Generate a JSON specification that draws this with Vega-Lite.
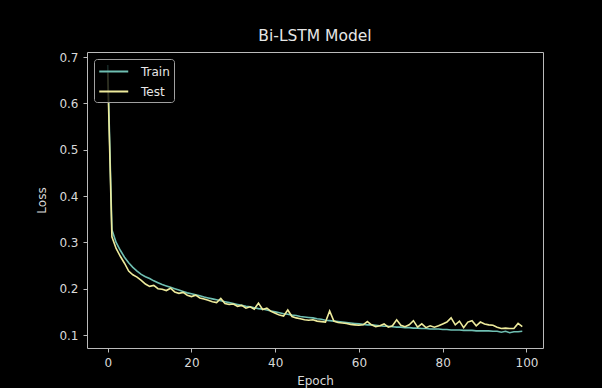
{
  "$schema": "https://vega.github.io/schema/vega-lite/v6.json",
  "width": 456,
  "height": 296,
  "autosize": {"type": "none"},
  "padding": {"left": 87, "top": 52, "right": 59, "bottom": 40},
  "background": "#000000",
  "title": {"text": "Bi-LSTM Model", "font": "DejaVu Sans", "fontSize": 15.5, "fontWeight": "normal", "color": "#e6e6e6", "offset": 7, "anchor": "middle"},
  "data": {"values": [
    {"epoch":0,"Train":0.683,"Test":0.665},{"epoch":1,"Train":0.327,"Test":0.312},{"epoch":2,"Train":0.300,"Test":0.287},{"epoch":3,"Train":0.283,"Test":0.270},{"epoch":4,"Train":0.268,"Test":0.255},
    {"epoch":5,"Train":0.256,"Test":0.238},{"epoch":6,"Train":0.246,"Test":0.230},{"epoch":7,"Train":0.238,"Test":0.225},{"epoch":8,"Train":0.231,"Test":0.218},{"epoch":9,"Train":0.226,"Test":0.210},
    {"epoch":10,"Train":0.222,"Test":0.205},{"epoch":11,"Train":0.217,"Test":0.207},{"epoch":12,"Train":0.213,"Test":0.200},{"epoch":13,"Train":0.209,"Test":0.199},{"epoch":14,"Train":0.206,"Test":0.196},
    {"epoch":15,"Train":0.203,"Test":0.201},{"epoch":16,"Train":0.200,"Test":0.193},{"epoch":17,"Train":0.197,"Test":0.190},{"epoch":18,"Train":0.194,"Test":0.192},{"epoch":19,"Train":0.191,"Test":0.186},
    {"epoch":20,"Train":0.189,"Test":0.183},{"epoch":21,"Train":0.187,"Test":0.186},{"epoch":22,"Train":0.185,"Test":0.180},{"epoch":23,"Train":0.182,"Test":0.178},{"epoch":24,"Train":0.180,"Test":0.175},
    {"epoch":25,"Train":0.178,"Test":0.172},{"epoch":26,"Train":0.176,"Test":0.170},{"epoch":27,"Train":0.174,"Test":0.179},{"epoch":28,"Train":0.172,"Test":0.168},{"epoch":29,"Train":0.170,"Test":0.166},
    {"epoch":30,"Train":0.168,"Test":0.167},{"epoch":31,"Train":0.166,"Test":0.162},{"epoch":32,"Train":0.164,"Test":0.164},{"epoch":33,"Train":0.162,"Test":0.158},{"epoch":34,"Train":0.161,"Test":0.161},
    {"epoch":35,"Train":0.159,"Test":0.156},{"epoch":36,"Train":0.157,"Test":0.169},{"epoch":37,"Train":0.156,"Test":0.155},{"epoch":38,"Train":0.154,"Test":0.158},{"epoch":39,"Train":0.152,"Test":0.151},
    {"epoch":40,"Train":0.150,"Test":0.147},{"epoch":41,"Train":0.148,"Test":0.143},{"epoch":42,"Train":0.146,"Test":0.141},{"epoch":43,"Train":0.145,"Test":0.154},{"epoch":44,"Train":0.143,"Test":0.140},
    {"epoch":45,"Train":0.142,"Test":0.137},{"epoch":46,"Train":0.140,"Test":0.135},{"epoch":47,"Train":0.139,"Test":0.133},{"epoch":48,"Train":0.138,"Test":0.132},{"epoch":49,"Train":0.137,"Test":0.133},
    {"epoch":50,"Train":0.135,"Test":0.130},{"epoch":51,"Train":0.134,"Test":0.129},{"epoch":52,"Train":0.132,"Test":0.128},{"epoch":53,"Train":0.131,"Test":0.152},{"epoch":54,"Train":0.130,"Test":0.130},
    {"epoch":55,"Train":0.129,"Test":0.127},{"epoch":56,"Train":0.128,"Test":0.126},{"epoch":57,"Train":0.127,"Test":0.125},{"epoch":58,"Train":0.126,"Test":0.123},{"epoch":59,"Train":0.125,"Test":0.122},
    {"epoch":60,"Train":0.124,"Test":0.121},{"epoch":61,"Train":0.123,"Test":0.122},{"epoch":62,"Train":0.122,"Test":0.129},{"epoch":63,"Train":0.122,"Test":0.122},{"epoch":64,"Train":0.121,"Test":0.118},
    {"epoch":65,"Train":0.120,"Test":0.120},{"epoch":66,"Train":0.119,"Test":0.124},{"epoch":67,"Train":0.119,"Test":0.117},{"epoch":68,"Train":0.118,"Test":0.120},{"epoch":69,"Train":0.117,"Test":0.133},
    {"epoch":70,"Train":0.117,"Test":0.121},{"epoch":71,"Train":0.116,"Test":0.118},{"epoch":72,"Train":0.116,"Test":0.122},{"epoch":73,"Train":0.115,"Test":0.131},{"epoch":74,"Train":0.115,"Test":0.117},
    {"epoch":75,"Train":0.114,"Test":0.124},{"epoch":76,"Train":0.114,"Test":0.116},{"epoch":77,"Train":0.113,"Test":0.120},{"epoch":78,"Train":0.113,"Test":0.117},{"epoch":79,"Train":0.113,"Test":0.120},
    {"epoch":80,"Train":0.112,"Test":0.124},{"epoch":81,"Train":0.112,"Test":0.128},{"epoch":82,"Train":0.111,"Test":0.137},{"epoch":83,"Train":0.111,"Test":0.122},{"epoch":84,"Train":0.111,"Test":0.130},
    {"epoch":85,"Train":0.110,"Test":0.116},{"epoch":86,"Train":0.110,"Test":0.128},{"epoch":87,"Train":0.110,"Test":0.131},{"epoch":88,"Train":0.109,"Test":0.120},{"epoch":89,"Train":0.109,"Test":0.128},
    {"epoch":90,"Train":0.109,"Test":0.124},{"epoch":91,"Train":0.109,"Test":0.122},{"epoch":92,"Train":0.108,"Test":0.121},{"epoch":93,"Train":0.108,"Test":0.117},{"epoch":94,"Train":0.106,"Test":0.114},
    {"epoch":95,"Train":0.108,"Test":0.115},{"epoch":96,"Train":0.105,"Test":0.114},{"epoch":97,"Train":0.107,"Test":0.114},{"epoch":98,"Train":0.107,"Test":0.125},{"epoch":99,"Train":0.108,"Test":0.118}
  ]},
  "transform": [{"fold": ["Train", "Test"], "as": ["series", "loss"]}],
  "encoding": {
    "x": {"field": "epoch", "type": "quantitative",
      "scale": {"domain": [-4.95, 103.95], "nice": false, "zero": false},
      "axis": {"values": [0, 20, 40, 60, 80, 100], "title": "Epoch", "titlePadding": 7}},
    "y": {"field": "loss", "type": "quantitative",
      "scale": {"domain": [0.072, 0.711], "nice": false, "zero": false},
      "axis": {"values": [0.1, 0.2, 0.3, 0.4, 0.5, 0.6, 0.7], "format": ".1f", "title": "Loss", "titlePadding": 10}},
    "color": {"field": "series", "type": "nominal",
      "scale": {"domain": ["Train", "Test"], "range": ["#6fbfb2", "#eeeb9c"]},
      "legend": {"orient": "top-left", "offset": 7, "title": null, "symbolType": "M-1,0H3", "symbolSize": 210, "symbolStrokeWidth": 2,
        "labelFont": "DejaVu Sans", "labelFontSize": 12, "labelColor": "#e6e6e6", "labelOffset": 26,
        "strokeColor": "#a0a0a0", "fillColor": "rgba(0,0,0,0.8)", "cornerRadius": 3, "padding": 4, "rowPadding": 5}}
  },
  "layer": [
    {"transform": [{"filter": "datum.series === 'Train'"}], "mark": {"type": "line", "strokeWidth": 1.6}},
    {"transform": [{"filter": "datum.series === 'Test'"}], "mark": {"type": "line", "strokeWidth": 1.6}}
  ],
  "config": {
    "view": {"stroke": "#bbbbbb", "strokeWidth": 1},
    "axis": {"labelFont": "DejaVu Sans", "labelFontSize": 12, "labelColor": "#d9d9d9", "titleFont": "DejaVu Sans", "titleFontSize": 12, "titleFontWeight": "normal", "titleColor": "#d9d9d9", "tickColor": "#bbbbbb", "tickSize": 4, "domain": false, "grid": false, "labelPadding": 5}
  }
}
